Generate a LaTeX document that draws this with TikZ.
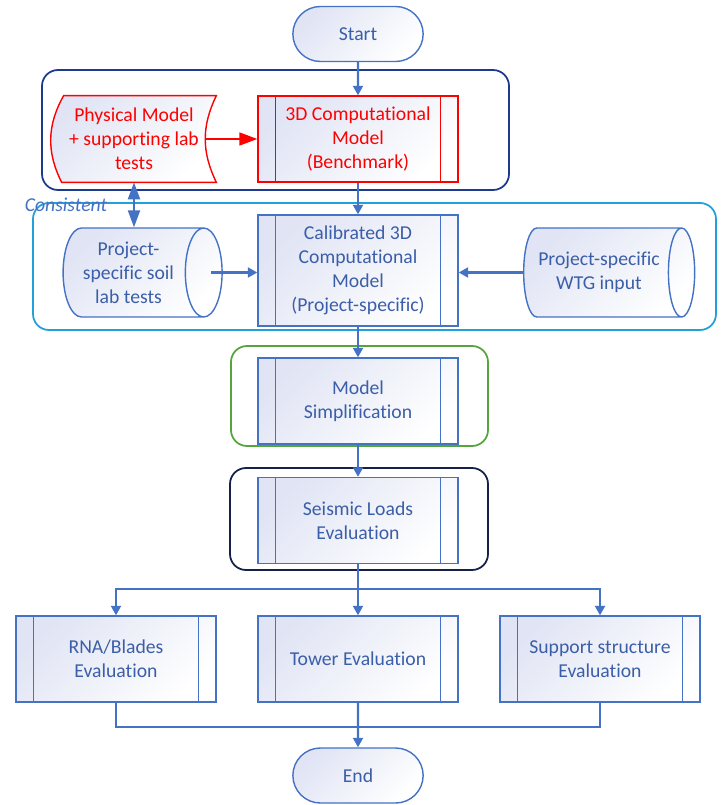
\documentclass[tikz,border=0pt]{standalone}
\usepackage{fontspec}
\setmainfont[Ligatures={NoCommon, NoRare, NoContextual}]{Carlito}
\usepackage{tikz}
\usetikzlibrary{shapes.geometric, shapes.misc, positioning, arrows.meta, calc}
\definecolor{LineBlue}{RGB}{68,114,196}
\definecolor{TextBlue}{RGB}{59,94,168}
\definecolor{NavyBox}{RGB}{30,58,140}
\definecolor{DarkBox}{RGB}{22,32,72}
\definecolor{GreenBox}{RGB}{84,166,60}
\definecolor{CyanBox}{RGB}{34,160,218}
\definecolor{FillLav}{RGB}{224,228,244}
\definecolor{FlowRed}{RGB}{255,0,0}

\begin{document}
\begin{tikzpicture}[x=0.2mm, y=-0.2mm,
          every node/.style={font=\fontsize{11.2}{13.7}\selectfont, text=TextBlue},
          shade/.style={top color=FillLav, bottom color=white, shading angle=45},
          term/.style={rounded rectangle, draw=LineBlue, line width=0.8pt,
                       shade, minimum width=28.4mm, minimum height=11mm},
          proc/.style={rectangle, draw=#1, line width=0.8pt, shade,
                       minimum width=40mm, minimum height=17.2mm, align=center,
                       path picture={
                         \draw[#1, line width=0.8pt]
                           ([xshift=3.5mm]path picture bounding box.north west) --
                           ([xshift=3.5mm]path picture bounding box.south west)
                           ([xshift=-3.5mm]path picture bounding box.north east) --
                           ([xshift=-3.5mm]path picture bounding box.south east);}},
          proc/.default=LineBlue,
          store/.style={cylinder, aspect=0.5, draw=LineBlue, line width=0.8pt,
                        shade, minimum width=17.8mm, align=center},
          grp/.style={rectangle, rounded corners=3.2mm, draw=#1, line width=1pt},
          arr/.style={-{Triangle[length=1.9mm, width=2mm]}, LineBlue, line width=1.2pt},
          link/.style={LineBlue, line width=1.2pt}
        ]
        \useasboundingbox (0,0) rectangle (721,805);

        % group frames
        \node[grp=NavyBox, minimum width=93.4mm, minimum height=24mm] (bench grp) at (275.5,130) {};
        \node[grp=CyanBox, minimum width=136.6mm, minimum height=25.4mm] (calib grp) at (374.5,266.5) {};
        \node[grp=GreenBox, minimum width=51.4mm, minimum height=20mm] (simp grp) at (359.5,396) {};
        \node[grp=DarkBox, minimum width=51.6mm, minimum height=20.4mm] (seis grp) at (359,519) {};
        \node[font=\fontsize{11.2}{13.7}\selectfont\itshape, text=LineBlue] (consistent) at (66,205) {Consistent};

        % start
        \node[term] (start) at (358,34) {Start};

        % benchmark row
        \node[minimum width=32.8mm, minimum height=17.2mm] (phys) at (134,139) {};
        \draw[FlowRed, line width=0.8pt, shade]
          ([xshift=2.4mm]phys.north west) -- (phys.north east)
          to[bend right=26] (phys.south east) -- ([xshift=2mm]phys.south west)
          to[bend left=28] cycle;
        \node[align=center, text=FlowRed] at (phys) {Physical Model\\+ supporting lab\\tests};
        \node[proc=FlowRed, text=FlowRed] (bench) at (358,139) {3D Computational\\Model\\(Benchmark)};

        % calibrated row
        \node[store, minimum height=31.8mm] (soil) at (128.5,272.5) {Project-\\specific soil\\lab tests};
        \node[proc, minimum height=22.2mm] (calib) at (358,270.5) {Calibrated 3D\\Computational\\Model\\(Project-specific)};
        \node[store, minimum height=34.2mm] (wtg) at (599,272.5) {Project-specific\\WTG input};

        % model chain
        \node[proc] (simp) at (358,401) {Model\\Simplification};
        \node[proc] (seis) at (358,520.5) {Seismic Loads\\Evaluation};

        % evaluations
        \node[proc] (rna) at (116,659) {RNA/Blades\\Evaluation};
        \node[proc] (tower) at (358,659) {Tower Evaluation};
        \node[proc] (supp) at (600,659) {Support structure\\Evaluation};
        \node[term] (end) at (358,775.5) {End};

        % connectors
        \coordinate (split) at (358,589);
        \coordinate (join) at (358,727);
        \draw[arr] (start) -- (bench);
        \draw[-{Triangle[length=3.6mm, width=2.6mm]}, FlowRed, line width=1pt]
          ([xshift=-2.2mm]phys.east) -- (bench);
        \draw[arr] (bench) -- (calib);
        \draw[{Triangle[length=3.4mm, width=2.4mm]}-{Triangle[length=3.4mm, width=2.4mm]},
              LineBlue, line width=1.2pt] (phys) -- (soil.north -| phys);
        \draw[arr] ([xshift=-2.4mm]soil.east) -- (soil.east -| calib.west);
        \draw[arr] (wtg.west) -- (wtg.west -| calib.east);
        \draw[arr] (calib) -- (simp);
        \draw[arr] (simp) -- (seis);
        \draw[link] (seis) -- (split);
        \draw[arr] (split) -| (rna);
        \draw[arr] (split) -- (tower);
        \draw[arr] (split) -| (supp);
        \draw[link] (rna) |- (join);
        \draw[link] (supp) |- (join);
        \draw[arr] (tower) -- (end);
      \end{tikzpicture}
\end{document}
